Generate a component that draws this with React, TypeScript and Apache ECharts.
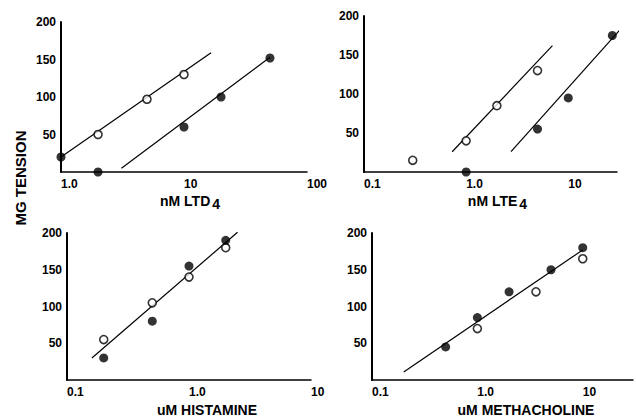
import React, { useEffect, useRef } from "react";
import * as echarts from "echarts";

// Panel 1: nM LTD4
const ltd4Open = [[2, 50], [5, 97], [10, 130]];
const ltd4Filled = [[1, 20], [2, 0], [10, 60], [20, 100], [50, 152]];
const ltd4OpenFit = [[1, 20], [16.6, 159]];
const ltd4FilledFit = [[3.1, 5], [50, 153]];

// Panel 2: nM LTE4
const lte4Open = [[0.3, 15], [1, 40], [2, 85], [5, 130]];
const lte4Filled = [[1, 0], [5, 55], [10, 95], [27, 175]];
const lte4OpenFit = [[0.73, 26], [7, 162]];
const lte4FilledFit = [[2.75, 26], [35, 188]];

// Panel 3: uM HISTAMINE
const histOpen = [[0.2, 55], [0.5, 105], [1, 140], [2, 180]];
const histFilled = [[0.2, 30], [0.5, 80], [1, 155], [2, 190]];
const histFit = [[0.16, 30], [2.5, 201]];

// Panel 4: uM METHACHOLINE
const methOpen = [[1, 70], [3.6, 120], [10, 165]];
const methFilled = [[0.5, 45], [1, 85], [2, 120], [5, 150], [10, 180]];
const methFit = [[0.2, 11], [10, 177]];

const yTicks = [0, 50, 100, 150, 200];
const xNames = ["nM LTD{s|4}", "nM LTE{s|4}", "uM HISTAMINE", "uM METHACHOLINE"];
const xRanges = [[1, 100], [0.1, 30], [0.1, 10], [0.1, 30]];

const FONT = "Liberation Sans, Arial, sans-serif";

export default function App() {
  const ref = useRef<HTMLDivElement>(null);
  useEffect(() => {
    if (!ref.current) return;
    const chart = echarts.init(ref.current, null, { renderer: "svg" });
    const grids = [
      { left: 61, top: 22, width: 246, height: 150 },
      { left: 364, top: 16, width: 253, height: 156 },
      { left: 67, top: 233, width: 244, height: 149 },
      { left: 372, top: 233, width: 263, height: 149 },
    ];
    const namePad = [12, 14, 36, 47];
    const nameGaps = [18, 18, 23, 23];
    const xfmt = (v: number) => {
      const l = Math.log10(v);
      if (Math.abs(l - Math.round(l)) > 1e-6) return "";
      const r = Math.round(l);
      if (r === -1) return "0.1";
      if (r === 0) return "1.0";
      return String(Math.round(v));
    };
    const xAxis = grids.map((_, i) => ({
      type: "log",
      gridIndex: i,
      min: xRanges[i][0],
      max: xRanges[i][1],
      logBase: 10,
      name: xNames[i],
      nameLocation: "middle",
      nameGap: nameGaps[i],
      nameTextStyle: {
        fontFamily: FONT,
        fontSize: 14,
        fontWeight: "bold",
        color: "#000",
        padding: [0, 0, 0, namePad[i]],
        rich: { s: { fontFamily: FONT, fontSize: 14, fontWeight: "bold", color: "#000", padding: [7, 0, 0, 2] } },
      },
      axisLine: { show: true, onZero: false, lineStyle: { color: "#000", width: 1.5 } },
      axisTick: { show: false },
      splitLine: { show: false },
      axisLabel: {
        formatter: xfmt,
        align: "left",
        margin: 6,
        fontFamily: FONT,
        fontSize: 12,
        fontWeight: "bold",
        color: "#000",
      },
    }));
    const yAxis = grids.map((_, i) => ({
      type: "value",
      gridIndex: i,
      min: yTicks[0],
      max: yTicks[yTicks.length - 1],
      interval: 50,
      axisLine: { show: true, lineStyle: { color: "#000", width: 2 } },
      axisTick: { show: false },
      splitLine: { show: false },
      axisLabel: {
        formatter: (v: number) => (v === 0 ? "" : String(v)),
        margin: 5,
        fontFamily: FONT,
        fontSize: 12,
        fontWeight: "bold",
        color: "#000",
      },
    }));
    const openSeries = (data: number[][], i: number) => ({
      type: "scatter",
      xAxisIndex: i,
      yAxisIndex: i,
      data,
      symbol: "circle",
      symbolSize: 8,
      z: 5,
      itemStyle: { color: "#fff", borderColor: "#000", borderWidth: 1.6 },
    });
    const filledSeries = (data: number[][], i: number) => ({
      type: "scatter",
      xAxisIndex: i,
      yAxisIndex: i,
      data,
      symbol: "circle",
      symbolSize: 9,
      z: 5,
      itemStyle: { color: "#000" },
    });
    const fitSeries = (data: number[][], i: number) => ({
      type: "line",
      xAxisIndex: i,
      yAxisIndex: i,
      data,
      showSymbol: false,
      symbol: "none",
      clip: false,
      z: 3,
      lineStyle: { color: "#000", width: 1.2 },
    });
    chart.setOption({
      animation: false,
      backgroundColor: "#fff",
      grid: grids,
      xAxis,
      yAxis,
      series: [
        fitSeries(ltd4OpenFit, 0),
        fitSeries(ltd4FilledFit, 0),
        openSeries(ltd4Open, 0),
        filledSeries(ltd4Filled, 0),
        fitSeries(lte4OpenFit, 1),
        fitSeries(lte4FilledFit, 1),
        openSeries(lte4Open, 1),
        filledSeries(lte4Filled, 1),
        fitSeries(histFit, 2),
        openSeries(histOpen, 2),
        filledSeries(histFilled, 2),
        fitSeries(methFit, 3),
        openSeries(methOpen, 3),
        filledSeries(methFilled, 3),
      ],
      graphic: [
        {
          type: "text",
          x: 20,
          y: 178,
          rotation: Math.PI / 2,
          style: {
            text: "MG TENSION",
            fontFamily: FONT,
            fontSize: 15,
            fontWeight: "bold",
            fill: "#000",
            align: "center",
            verticalAlign: "middle",
          },
        },
      ],
    });
    return () => chart.dispose();
  }, []);
  return (
    <div
      ref={ref}
      style={{ position: "fixed", left: 0, top: 0, width: 636, height: 418, background: "#fff" }}
    />
  );
}
